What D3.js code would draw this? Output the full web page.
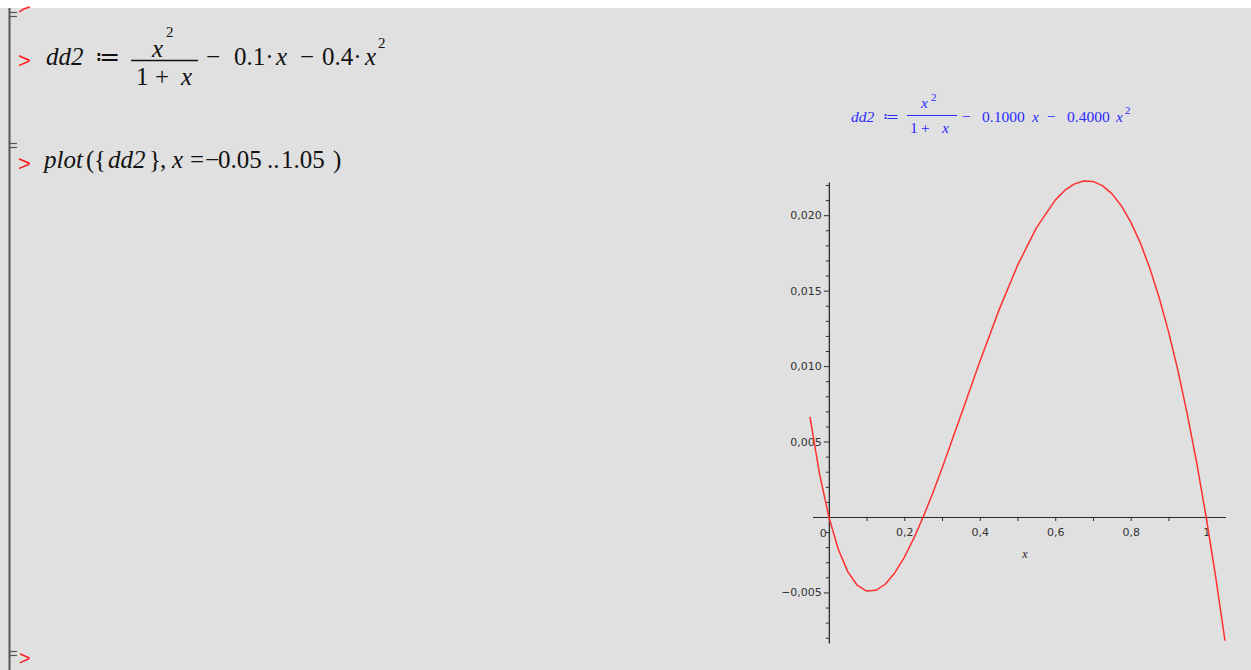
<!DOCTYPE html>
<html>
<head>
<meta charset="utf-8">
<script src="https://cdn.jsdelivr.net/npm/d3@7"></script>
<style>
  html, body { margin: 0; padding: 0; background: #e0e0e0; }
  svg { display: block; }
</style>
</head>
<body>
<script>
// Sampled values of dd2 over x = -0.05 .. 1.05
const xValues = [-0.05, -0.025, 0, 0.025, 0.05, 0.075, 0.1, 0.125, 0.15, 0.175, 0.2, 0.225, 0.25, 0.275, 0.3, 0.35, 0.4, 0.45, 0.5, 0.55, 0.6, 0.625, 0.65, 0.675, 0.7, 0.725, 0.75, 0.775, 0.8, 0.825, 0.85, 0.875, 0.9, 0.925, 0.95, 0.975, 1.0, 1.025, 1.05];
const yValues = [0.00663, 0.00289, 0, -0.00214, -0.00362, -0.00452, -0.00491, -0.00486, -0.00444, -0.00369, -0.00267, -0.00142, 0, 0.00156, 0.00323, 0.00674, 0.01029, 0.01366, 0.01667, 0.01916, 0.02100, 0.02164, 0.02206, 0.02227, 0.02224, 0.02196, 0.02143, 0.02063, 0.01956, 0.01820, 0.01654, 0.01458, 0.01232, 0.00973, 0.00682, 0.00358, 0, -0.00392, -0.00820];

const xTicks = [0, 0.2, 0.4, 0.6, 0.8, 1];
const xTickLabels = ["0", "0,2", "0,4", "0,6", "0,8", "1"];
const xMinorTicks = [0.1, 0.3, 0.5, 0.7, 0.9];
const yTicks = [-0.005, 0.005, 0.010, 0.015, 0.020];
const yTickLabels = ["\u22120,005", "0,005", "0,010", "0,015", "0,020"];
const yMinorTicks = [-0.008, -0.007, -0.006, -0.004, -0.003, -0.002, -0.001, 0.001, 0.002, 0.003, 0.004, 0.006, 0.007, 0.008, 0.009, 0.011, 0.012, 0.013, 0.014, 0.016, 0.017, 0.018, 0.019, 0.021, 0.022];

const W = 1251, H = 670;
const svg = d3.select("body").append("svg").attr("width", W).attr("height", H);

svg.append("rect").attr("width", W).attr("height", H).attr("fill", "#e0e0e0");
svg.append("rect").attr("width", W).attr("height", 8).attr("fill", "#ffffff");

// Worksheet group brackets on the left
const bracket = svg.append("g").attr("stroke", "#555").attr("fill", "none");
bracket.append("line").attr("x1", 9.5).attr("x2", 9.5).attr("y1", 8).attr("y2", H).attr("stroke-width", 2);
[[12, 16], [143, 147], [651, 655]].forEach(([a, b]) => {
  bracket.append("line").attr("x1", 9).attr("x2", 17).attr("y1", a + 0.5).attr("y2", a + 0.5).attr("stroke-width", 1.2);
  bracket.append("line").attr("x1", 9).attr("x2", 17).attr("y1", b + 0.5).attr("y2", b + 0.5).attr("stroke-width", 1.2);
});
svg.append("path").attr("d", "M19,12 Q24,8 30,7").attr("stroke", "#f22").attr("fill", "none").attr("stroke-width", 1.5);

// Prompts
const prompt = (x, y, size) => svg.append("text").attr("x", x).attr("y", y)
  .attr("font-family", "Liberation Sans, Arial, sans-serif").attr("font-size", size)
  .attr("fill", "#ff1a1a").text(">");
prompt(18, 68, 22);
prompt(18, 171, 22);
prompt(19, 665, 20);

const serif = "Liberation Serif, Times New Roman, serif";

// Places a run of math pieces: [text, x, y, italic, size]
function mathRun(g, pieces, baseSize) {
  pieces.forEach(([s, px, py, it, sz]) => {
    g.append("text").attr("x", px).attr("y", py)
      .attr("font-style", it ? "italic" : "normal")
      .attr("font-size", sz || baseSize).text(s);
  });
}

// Input line 1: dd2 := x^2/(1+x) - 0.1·x - 0.4·x^2
const t1 = svg.append("g").attr("font-family", serif).attr("fill", "#111");
mathRun(t1, [
  ["dd2", 46, 65, true],
  ["\u2254", 95, 65, false],
  ["x", 152, 57, true],
  ["2", 166, 37, false, 15],
  ["1", 136, 85, false],
  ["+", 155, 85, false],
  ["x", 181, 85, true],
  ["\u2212", 206, 65, false],
  ["0.1\u00b7", 234, 65, false],
  ["x", 276, 65, true],
  ["\u2212", 300, 65, false],
  ["0.4\u00b7", 322, 65, false],
  ["x", 365, 65, true],
  ["2", 378, 48, false, 15]
], 25);
t1.append("line").attr("x1", 131).attr("x2", 198).attr("y1", 60.5).attr("y2", 60.5)
  .attr("stroke", "#111").attr("stroke-width", 1.3);

// Input line 2: plot({dd2}, x=-0.05..1.05)
const t2 = svg.append("g").attr("font-family", serif).attr("fill", "#111");
mathRun(t2, [
  ["plot", 44, 168, true],
  ["(", 86, 168, false],
  ["{", 94, 168, false],
  ["dd2", 108, 168, true],
  ["}", 149, 168, false],
  [",", 160, 168, false],
  ["x", 172, 168, true],
  ["=", 190, 168, false],
  ["\u2212", 205, 168, false],
  ["0.05", 218, 168, false],
  ["..", 267, 168, false],
  ["1.05", 281, 168, false],
  [")", 333, 168, false]
], 25);

// Plot title (blue)
const blue = "#2a2aff";
const tt = svg.append("g").attr("font-family", serif).attr("fill", blue);
mathRun(tt, [
  ["dd2", 851, 122, true],
  ["\u2254", 883, 122, false],
  ["x", 921, 108, true],
  ["2", 931, 101, false, 11],
  ["1", 910, 133, false],
  ["+", 921, 133, false],
  ["x", 942, 133, true],
  ["\u2212", 962, 122, false],
  ["0.1000", 982, 122, false],
  ["x", 1032, 122, true],
  ["\u2212", 1047, 122, false],
  ["0.4000", 1067, 122, false],
  ["x", 1116, 122, true],
  ["2", 1125, 114, false, 11]
], 15.5);
tt.append("line").attr("x1", 907).attr("x2", 957).attr("y1", 115.5).attr("y2", 115.5)
  .attr("stroke", blue).attr("stroke-width", 1);

// Scales
const x = d3.scaleLinear().domain([-0.05, 1.05]).range([810, 1225]);
const y = d3.scaleLinear().domain([-0.00835, 0.0222]).range([643, 182]);

const axisColor = "#2b2b2b";
const sans = "DejaVu Sans, Verdana, sans-serif";

// x axis
const xAxis = svg.append("g").attr("transform", `translate(0,${y(0)})`)
  .call(d3.axisBottom(x).tickValues(xTicks.slice(1)).tickSize(4)
    .tickFormat((d, i) => xTickLabels[i + 1]).tickSizeOuter(0));
xAxis.select(".domain").attr("stroke", axisColor).attr("d", `M${x(-0.05) + 3},0.5H${x(1.05) + 1}`);
xAxis.selectAll(".tick line").attr("stroke", axisColor);
xAxis.selectAll(".tick text").attr("font-family", sans).attr("font-size", 11).attr("fill", "#333").attr("dy", "1.05em");
svg.append("g").selectAll("line").data(xMinorTicks).join("line")
  .attr("x1", d => x(d) + 0.5).attr("x2", d => x(d) + 0.5)
  .attr("y1", y(0)).attr("y2", y(0) + 4).attr("stroke", axisColor);
svg.append("text").attr("x", x(0) - 2).attr("y", y(0) + 20).attr("text-anchor", "end")
  .attr("font-family", sans).attr("font-size", 11).attr("fill", "#333").text(xTickLabels[0]);
svg.append("text").attr("x", 1025).attr("y", 558).attr("text-anchor", "middle")
  .attr("font-family", serif).attr("font-style", "italic").attr("font-size", 12).attr("fill", "#222").text("x");

// y axis
const yAxis = svg.append("g").attr("transform", `translate(${x(0)},0)`)
  .call(d3.axisLeft(y).tickValues(yTicks).tickSize(5)
    .tickFormat((d, i) => yTickLabels[i]).tickSizeOuter(0));
yAxis.select(".domain").attr("stroke", axisColor).attr("stroke-width", 1.3);
yAxis.selectAll(".tick line").attr("stroke", axisColor);
yAxis.selectAll(".tick text").attr("font-family", sans).attr("font-size", 11).attr("fill", "#333").attr("x", -7);
svg.append("g").selectAll("line").data(yMinorTicks).join("line")
  .attr("x1", x(0) - 3).attr("x2", x(0))
  .attr("y1", d => y(d) + 0.5).attr("y2", d => y(d) + 0.5).attr("stroke", axisColor);

// Curve
const line = d3.line().x(d => x(d[0])).y(d => y(d[1]));
svg.append("path")
  .datum(xValues.map((v, i) => [v, yValues[i]]))
  .attr("d", line)
  .attr("fill", "none")
  .attr("stroke", "#ff3030")
  .attr("stroke-width", 1.5)
  .attr("stroke-linejoin", "round");
</script>
</body>
</html>
